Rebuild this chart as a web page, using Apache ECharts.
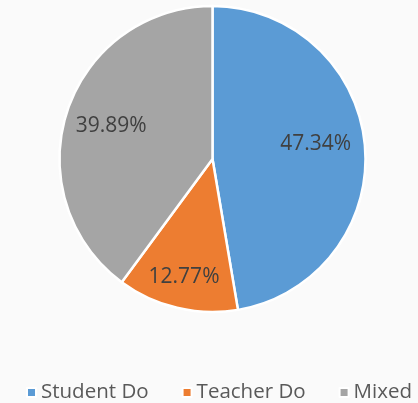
<!DOCTYPE html>
<html><head><meta charset="utf-8">
<script src="https://cdn.jsdelivr.net/npm/echarts@6/dist/echarts.min.js"></script>
<style>html,body{margin:0;padding:0;background:#fafafa;}#c{width:418px;height:403px;}</style>
</head><body><div id="c"></div>
<script>
const categories = ['Student Do', 'Teacher Do', 'Mixed'];
const values = [47.34, 12.77, 39.89];
const colors = ['#5b9bd5', '#ed7d31', '#a5a5a5'];
const labelOffsets = [[-2, -6], [-4, 15], [-1, 0]];

const chart = echarts.init(document.getElementById('c'));
const font = '"Open Sans", "Noto Sans", sans-serif';
chart.setOption({
  backgroundColor: '#fafafa',
  animation: false,
  color: colors,
  legend: {
    top: 377, left: 21, padding: 5,
    icon: 'rect', itemWidth: 9, itemHeight: 9, itemGap: 33,
    textStyle: { fontFamily: font, fontSize: 20.5, color: '#595959' },
    data: categories
  },
  series: [{
    type: 'pie', center: [212.5, 159], radius: [0, 153],
    startAngle: 90, clockwise: true,
    label: { show: false }, labelLine: { show: false },
    itemStyle: { borderColor: '#ffffff', borderWidth: 2.5 },
    emphasis: { disabled: true },
    data: categories.map((n, i) => ({ name: n, value: values[i] }))
  }, {
    type: 'pie', center: [212.5, 159], radius: [0, 205],
    startAngle: 90, clockwise: true, silent: true,
    itemStyle: { color: 'rgba(0,0,0,0)', borderWidth: 0 },
    labelLine: { show: false },
    label: {
      show: true, position: 'inside',
      fontFamily: font, fontSize: 21, color: '#404040',
      formatter: p => p.value.toFixed(2) + '%'
    },
    data: categories.map((n, i) => ({ name: n, value: values[i], label: { offset: labelOffsets[i] } }))
  }]
});
</script></body></html>
